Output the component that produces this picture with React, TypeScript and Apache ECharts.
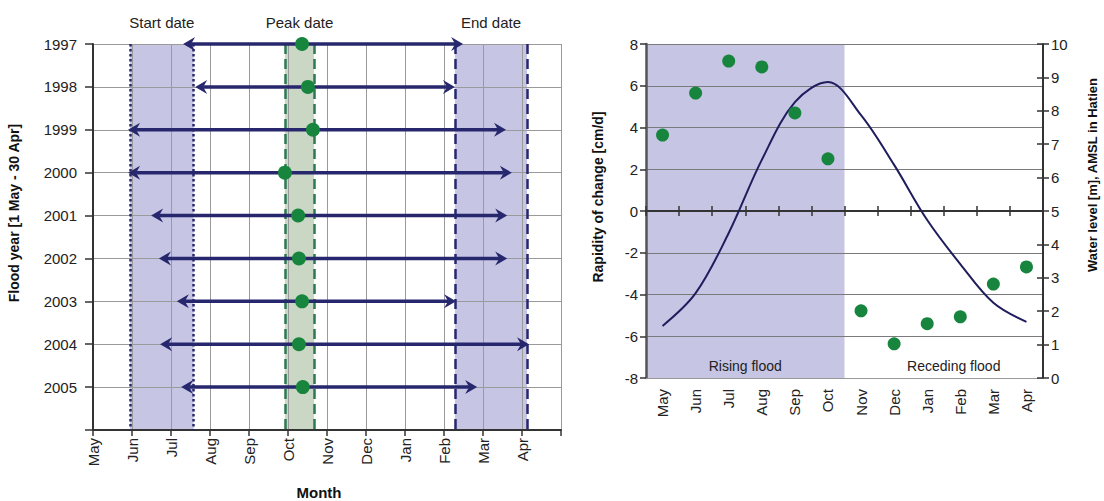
import React, { useEffect, useRef } from "react";
import * as echarts from "echarts";

const months = ["May", "Jun", "Jul", "Aug", "Sep", "Oct", "Nov", "Dec", "Jan", "Feb", "Mar", "Apr"];
const floodYears = [1997, 1998, 1999, 2000, 2001, 2002, 2003, 2004, 2005];
// month positions (0 = 1 May, 12 = 1 May next year)
const startMonth = [2.31, 2.62, 0.9, 0.9, 1.49, 1.69, 2.15, 1.72, 2.26];
const endMonth = [9.49, 9.28, 10.59, 10.74, 10.62, 10.62, 9.31, 11.18, 9.85];
const peakMonth = [5.36, 5.51, 5.64, 4.92, 5.26, 5.28, 5.36, 5.28, 5.38];
const startBand = [0.95, 2.58];
const peakBand = [4.92, 5.67];
const endBand = [9.28, 11.13];

const rapidity = [3.64, 5.65, 7.18, 6.9, 4.7, 2.5, -4.78, -6.36, -5.4, -5.07, -3.5, -2.68];
const waterLevel = [1.56, 2.54, 4.34, 6.53, 8.26, 8.86, 7.87, 6.38, 4.73, 3.41, 2.25, 1.68];
const risingRange = [0, 6];
const recedingRange = [6, 12];

const NAVY = "#27276e";
const GREEN = "#17853d";
const LAV = "#c6c5e4";
const PEAKCOL = "#cbd7c5";
const FONT = "Liberation Sans, Arial, sans-serif";

export default function App() {
  const ref = useRef<HTMLDivElement>(null);
  useEffect(() => {
    document.body.style.margin = "0";
    const chart = echarts.init(ref.current!, null, { renderer: "svg" });
    const arrowData = floodYears.map((y, i) => [startMonth[i], endMonth[i], y]);
    const peakData = floodYears.map((y, i) => [peakMonth[i], y]);
    const vline = (x: number, color: string, type: any) => ({
      xAxis: x,
      lineStyle: { color, width: 2.5, type },
    });
    const option: any = {
      animation: false,
      textStyle: { fontFamily: FONT },
      grid: [
        { left: 93, top: 44, width: 468, height: 386 },
        { left: 646, top: 44, width: 397, height: 334 },
      ],
      xAxis: [
        {
          gridIndex: 0, type: "value", min: 0, max: 12, interval: 1, z: 2,
          axisLine: { lineStyle: { color: "#333", width: 2 } },
          axisTick: { show: true, length: 6, lineStyle: { color: "#333", width: 1.5 } },
          axisLabel: {
            rotate: 90, fontSize: 15, color: "#222", margin: 8,
            formatter: (v: number) => months[v] ?? "",
          },
          splitLine: { show: true, lineStyle: { color: "#9a9a9a", width: 1 } },
        },
        {
          gridIndex: 1, type: "category", data: months, position: "bottom", z: 2,
          axisLine: { onZero: false, lineStyle: { color: "#999", width: 1 } },
          axisTick: { show: false },
          axisLabel: { rotate: 90, fontSize: 15, color: "#222", margin: 11 },
          splitLine: { show: false },
        },
        {
          gridIndex: 1, type: "value", min: 0, max: 12, interval: 1, position: "bottom", z: 2,
          axisLine: { onZero: true, onZeroAxisIndex: 1, lineStyle: { color: "#333", width: 2 } },
          axisTick: { show: true, length: 5, lineStyle: { color: "#333", width: 1.5 } },
          axisLabel: { show: false },
          splitLine: { show: false },
        },
        {
          gridIndex: 1, type: "value", min: 0, max: 12, interval: 1, position: "bottom", z: 2,
          axisLine: { onZero: true, onZeroAxisIndex: 1, lineStyle: { color: "#333", width: 2 } },
          axisTick: { show: true, inside: true, length: 5, lineStyle: { color: "#333", width: 1.5 } },
          axisLabel: { show: false },
          splitLine: { show: false },
        },
      ],
      yAxis: [
        {
          gridIndex: 0, type: "value", inverse: true, min: 1997, max: 2006, interval: 1, z: 2,
          axisLine: { show: true, lineStyle: { color: "#333", width: 2 } },
          axisTick: { show: true, length: 8, lineStyle: { color: "#333", width: 1.5 } },
          axisLabel: {
            fontSize: 15, color: "#222", margin: 16,
            formatter: (v: number) => (v >= 2006 ? "" : String(v)),
          },
          splitLine: { show: true, lineStyle: { color: "#9a9a9a", width: 1 } },
        },
        {
          gridIndex: 1, type: "value", min: -8, max: 8, interval: 2, position: "left", z: 2,
          axisLine: { show: true, onZero: false, lineStyle: { color: "#555", width: 2.5 } },
          axisTick: { show: true, length: 6, lineStyle: { color: "#333", width: 1.5 } },
          axisLabel: { fontSize: 15, color: "#222", margin: 8 },
          splitLine: { show: true, lineStyle: { color: "#7a7a7a", width: 1 } },
        },
        {
          gridIndex: 1, type: "value", min: 0, max: 10, interval: 1, position: "right", z: 2,
          axisLine: { show: true, onZero: false, lineStyle: { color: "#333", width: 2 } },
          axisTick: { show: true, length: 6, lineStyle: { color: "#333", width: 1.5 } },
          axisLabel: { fontSize: 15, color: "#222", margin: 8 },
          splitLine: { show: false },
        },
        {
          gridIndex: 1, type: "value", min: 0, max: 10, interval: 1, position: "right", z: 2,
          axisLine: { show: false, onZero: false },
          axisTick: { show: true, inside: true, length: 6, lineStyle: { color: "#333", width: 1.5 } },
          axisLabel: { show: false },
          splitLine: { show: false },
        },
      ],
      series: [
        {
          type: "line", xAxisIndex: 0, yAxisIndex: 0, data: [], silent: true, z: 1,
          markArea: {
            silent: true, z: 1,
            label: { show: true, position: "top", distance: 14, fontSize: 15, color: "#222", fontFamily: FONT },
            data: [
              [{ xAxis: startBand[0], name: "Start date", itemStyle: { color: LAV } }, { xAxis: startBand[1] }],
              [{ xAxis: peakBand[0], name: "Peak date", itemStyle: { color: PEAKCOL } }, { xAxis: peakBand[1] }],
              [{ xAxis: endBand[0], name: "End date", itemStyle: { color: LAV } }, { xAxis: endBand[1] }],
            ],
          },
          markLine: {
            silent: true, symbol: "none", label: { show: false }, z: 3,
            data: [
              vline(startBand[0], NAVY, "dotted"),
              vline(startBand[1], NAVY, "dotted"),
              vline(peakBand[0], "#2d7a52", "dashed"),
              vline(peakBand[1], "#2d7a52", "dashed"),
              vline(endBand[0], NAVY, "dashed"),
              vline(endBand[1], NAVY, "dashed"),
            ],
          },
        },
        {
          type: "custom", xAxisIndex: 0, yAxisIndex: 0, data: arrowData,
          encode: { x: [0, 1], y: 2 }, z: 4,
          renderItem: (params: any, api: any) => {
            const y = api.value(2);
            const a = api.coord([api.value(0), y]);
            const b = api.coord([api.value(1), y]);
            const h = 12, w = 7, n = 8;
            return {
              type: "group",
              children: [
                { type: "line", shape: { x1: a[0] + n, y1: a[1], x2: b[0] - n, y2: b[1] }, style: { stroke: NAVY, lineWidth: 3.5 } },
                { type: "polygon", shape: { points: [[a[0], a[1]], [a[0] + h, a[1] - w], [a[0] + n, a[1]], [a[0] + h, a[1] + w]] }, style: { fill: NAVY } },
                { type: "polygon", shape: { points: [[b[0], b[1]], [b[0] - h, b[1] - w], [b[0] - n, b[1]], [b[0] - h, b[1] + w]] }, style: { fill: NAVY } },
              ],
            };
          },
        },
        {
          type: "scatter", xAxisIndex: 0, yAxisIndex: 0, data: peakData, z: 5,
          symbolSize: 14, itemStyle: { color: GREEN, opacity: 1 },
        },
        {
          type: "line", xAxisIndex: 2, yAxisIndex: 1, data: [], silent: true, z: 1,
          markArea: {
            silent: true, z: 1,
            label: { show: true, position: "insideBottom", distance: 5, fontSize: 14, color: "#222", fontFamily: FONT },
            data: [
              [{ xAxis: risingRange[0], name: "Rising flood", itemStyle: { color: LAV } }, { xAxis: risingRange[1] }],
              [{ xAxis: recedingRange[0], name: "Receding flood", itemStyle: { color: "rgba(0,0,0,0)" }, label: { offset: [10, 0] } }, { xAxis: recedingRange[1] }],
            ],
          },
        },
        {
          type: "line", xAxisIndex: 1, yAxisIndex: 2, data: waterLevel, smooth: 0.35,
          symbol: "none", lineStyle: { color: "#1f1d5c", width: 2 }, z: 4,
        },
        {
          type: "scatter", xAxisIndex: 1, yAxisIndex: 1, data: rapidity, z: 5,
          symbolSize: 13, itemStyle: { color: GREEN, opacity: 1 },
        },
      ],
      graphic: [
        { type: "text", x: 14, y: 213, rotation: Math.PI / 2, style: { text: "Flood year [1 May - 30 Apr]", font: `bold 14px ${FONT}`, fill: "#111", align: "center", verticalAlign: "middle" } },
        { type: "text", x: 319, y: 492, style: { text: "Month", font: `bold 15px ${FONT}`, fill: "#111", align: "center", verticalAlign: "middle" } },
        { type: "text", x: 598, y: 197, rotation: Math.PI / 2, style: { text: "Rapidity of change [cm/d]", font: `bold 14px ${FONT}`, fill: "#111", align: "center", verticalAlign: "middle" } },
        { type: "text", x: 1092, y: 175, rotation: Math.PI / 2, style: { text: "Water level [m], AMSL in Hatien", font: `bold 13px ${FONT}`, fill: "#111", align: "center", verticalAlign: "middle" } },
      ],
    };
    chart.setOption(option);
    return () => chart.dispose();
  }, []);
  return <div ref={ref} style={{ width: 1104, height: 501 }} />;
}
